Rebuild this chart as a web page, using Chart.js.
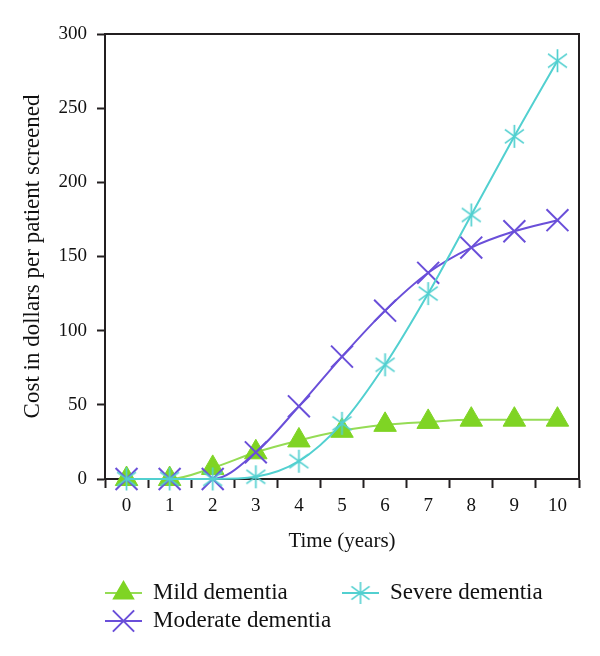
<!DOCTYPE html>
<html>
<head>
<meta charset="utf-8">
<script src="https://cdn.jsdelivr.net/npm/chart.js@4.4.1/dist/chart.umd.min.js"></script>
<style>
html,body{margin:0;padding:0;background:#fff;}
#wrap{width:600px;height:656px;position:relative;}
</style>
</head>
<body>
<div id="wrap"><canvas id="c" width="600" height="656"></canvas></div>
<script>
const years = ['0','1','2','3','4','5','6','7','8','9','10'];
const mild = [0, 0, 7.5, 18, 26, 32.5, 36.5, 38.5, 40, 40, 40];
const moderate = [0, 0, 0, 18, 49, 82.5, 113.5, 139, 156, 167, 174.5];
const severe = [0, 0, 0, 1.5, 12, 37.5, 77, 125, 178, 231, 282];
const yTicks = [0, 50, 100, 150, 200, 250, 300];

const FONT = "'Liberation Serif', 'Times New Roman', serif";
const AXIS = '#231f20';
const C_MILD_LINE = '#95dc55';
const C_MILD_PT = '#7fd424';
const C_MOD = '#6a4fd9';
const C_SEV = '#52d0d0';

function makeAsterisk(color, size, lw) {
  const cv = document.createElement('canvas');
  cv.width = size; cv.height = size;
  const g = cv.getContext('2d');
  g.strokeStyle = color; g.lineWidth = lw; g.lineCap = 'butt';
  const c = size / 2, r = size / 2 - 1;
  g.beginPath();
  g.moveTo(c, c - r); g.lineTo(c, c + r);
  const dx = r * Math.cos(Math.PI / 6) * 0.95, dy = r * Math.sin(Math.PI / 6) * 1.2;
  g.moveTo(c - dx, c - dy); g.lineTo(c + dx, c + dy);
  g.moveTo(c - dx, c + dy); g.lineTo(c + dx, c - dy);
  g.stroke();
  return cv;
}
const sevStar = makeAsterisk(C_SEV, 25, 1.7);
const sevStarSmall = makeAsterisk(C_SEV, 24, 1.6);

const framePlugin = {
  id: 'frame',
  afterDraw(chart) {
    const {ctx, chartArea: a} = chart;
    ctx.save();
    ctx.strokeStyle = AXIS;
    ctx.lineWidth = 2;
    ctx.beginPath();
    ctx.moveTo(a.left, a.top);
    ctx.lineTo(a.right, a.top);
    ctx.lineTo(a.right, a.bottom);
    ctx.stroke();
    ctx.restore();
  }
};

const legendItems = [
  {label: 'Mild dementia', line: C_MILD_LINE, style: 'triangle', fill: C_MILD_PT, stroke: C_MILD_PT, r: 11, x: 105, y: 593},
  {label: 'Moderate dementia', line: C_MOD, style: 'crossRot', fill: C_MOD, stroke: C_MOD, r: 15, x: 105, y: 621},
  {label: 'Severe dementia', line: C_SEV, style: sevStarSmall, fill: C_SEV, stroke: C_SEV, r: 12, x: 342, y: 593}
];

const legendPlugin = {
  id: 'customLegend',
  afterDraw(chart) {
    const ctx = chart.ctx;
    ctx.save();
    legendItems.forEach(it => {
      ctx.strokeStyle = it.line;
      ctx.lineWidth = 2;
      ctx.beginPath();
      ctx.moveTo(it.x, it.y);
      ctx.lineTo(it.x + 37, it.y);
      ctx.stroke();
      ctx.fillStyle = it.fill;
      ctx.strokeStyle = it.stroke;
      ctx.lineWidth = 2;
      Chart.helpers.drawPoint(ctx, {pointStyle: it.style, radius: it.r, rotation: 0, borderWidth: 2}, it.x + 18.5, it.y);
      ctx.fillStyle = '#111';
      ctx.font = "23px " + FONT;
      ctx.textBaseline = 'middle';
      ctx.textAlign = 'left';
      ctx.fillText(it.label, it.x + 48, it.y);
    });
    ctx.restore();
  }
};

new Chart(document.getElementById('c'), {
  type: 'line',
  data: {
    labels: years,
    datasets: [
      {
        label: 'Severe dementia', data: severe, clip: false,
        borderColor: C_SEV, backgroundColor: C_SEV, borderWidth: 2,
        pointStyle: sevStar, pointRadius: 12, cubicInterpolationMode: 'monotone', fill: false
      },
      {
        label: 'Moderate dementia', data: moderate, clip: false,
        borderColor: C_MOD, backgroundColor: C_MOD, borderWidth: 2,
        pointStyle: 'crossRot', pointRadius: 15.5, pointBorderWidth: 2, cubicInterpolationMode: 'monotone', fill: false
      },
      {
        label: 'Mild dementia', data: mild, clip: false,
        borderColor: C_MILD_LINE, backgroundColor: C_MILD_PT, borderWidth: 2,
        pointStyle: 'triangle', pointRadius: 13, pointBorderColor: C_MILD_PT, pointBackgroundColor: C_MILD_PT, pointBorderWidth: 1,
        cubicInterpolationMode: 'monotone', fill: false
      }
    ]
  },
  options: {
    responsive: false,
    animation: false,
    events: [],
    layout: {padding: {left: 18.8, top: 34, right: 21, bottom: 102.4}},
    plugins: {legend: {display: false}, tooltip: {enabled: false}},
    scales: {
      x: {
        type: 'category',
        offset: true,
        grid: {display: true, offset: true, drawOnChartArea: false, drawTicks: true, tickLength: 9, tickWidth: 2, tickColor: AXIS},
        border: {display: true, color: AXIS, width: 2},
        ticks: {color: '#111', font: {family: FONT, size: 19}, padding: 7, maxRotation: 0, autoSkip: false},
        title: {display: true, text: 'Time (years)', color: '#111', font: {family: FONT, size: 21}, padding: {top: 0, bottom: 0}},
        afterFit(s) { s.height = 74.6; }
      },
      y: {
        min: 0, max: 300,
        afterBuildTicks(s) { s.ticks = yTicks.map(v => ({value: v})); },
        grid: {display: true, drawOnChartArea: false, drawTicks: true, tickLength: 8, tickWidth: 2, tickColor: AXIS},
        border: {display: true, color: AXIS, width: 2},
        ticks: {color: '#111', font: {family: FONT, size: 19}, padding: 10},
        title: {display: true, text: 'Cost in dollars per patient screened', color: '#111', font: {family: FONT, size: 23}, padding: {top: 0, bottom: 0}},
        afterFit(s) { s.width = 105 - 18.8; }
      }
    }
  },
  plugins: [framePlugin, legendPlugin]
});
</script>
</body>
</html>
